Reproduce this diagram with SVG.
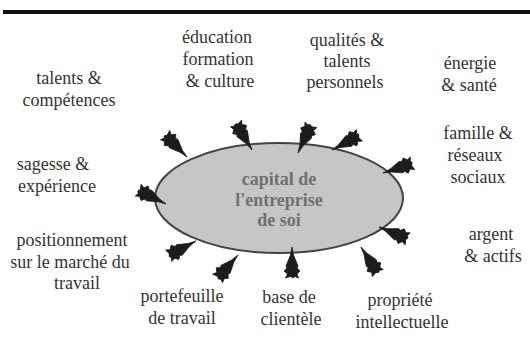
<svg xmlns="http://www.w3.org/2000/svg" width="530" height="341" viewBox="0 0 530 341">
<style>
text{font-family:'Liberation Serif',serif !important;font-size:18px;text-anchor:middle}
.lbl{fill:#333}
.ctr{font-weight:bold;fill:#707070}
.arr{fill:#1c1c1c;stroke:#1c1c1c;stroke-width:0.8;stroke-linejoin:round}
</style>
<defs>
<path id="dart" d="M0,0 L-8,-1.5 L-19,-6 L-21,-5 L-24,-8 L-27,-4.5 L-31,-6.5 L-29.5,-1.5 L-31,1 L-29.5,3 L-31,6.5 L-27,5 L-24,8 L-21,5 L-19,6 L-8,1.5 Z"/>
</defs>
<rect width="530" height="341" fill="#fff"/>
<line x1="3" y1="12" x2="530" y2="12" stroke="#111" stroke-width="4"/>
<g id="center">
<ellipse cx="279" cy="198" rx="124" ry="55" fill="#c6c6c6" stroke="#444" stroke-width="2"/>
<text class="ctr" x="279" y="185" font-family="Liberation Serif">capital de</text>
<text class="ctr" x="279" y="206" font-family="Liberation Serif">l'entreprise</text>
<text class="ctr" x="279" y="226" font-family="Liberation Serif">de soi</text>
</g>
<g id="connectors">
<use href="#dart" class="arr" transform="translate(187,157) rotate(45)"/>
<use href="#dart" class="arr" transform="translate(252,150) rotate(59)"/>
<use href="#dart" class="arr" transform="translate(298,153) rotate(114.8)"/>
<use href="#dart" class="arr" transform="translate(332,150) rotate(151.8)"/>
<use href="#dart" class="arr" transform="translate(383,173) rotate(162)"/>
<use href="#dart" class="arr" transform="translate(166,204) rotate(26.6)"/>
<use href="#dart" class="arr" transform="translate(379,227) rotate(202.5)"/>
<use href="#dart" class="arr" transform="translate(196,241) rotate(-28.3)"/>
<use href="#dart" class="arr" transform="translate(238,255) rotate(-49)"/>
<use href="#dart" class="arr" transform="translate(292,247) rotate(-90)"/>
<use href="#dart" class="arr" transform="translate(361,247) rotate(-122.7)"/>
</g>
<g id="talents"><text class="lbl" font-family="Liberation Serif" x="69" y="84">talents &amp;</text><text class="lbl" font-family="Liberation Serif" x="69" y="106">compétences</text></g>
<g id="education"><text class="lbl" font-family="Liberation Serif" x="217" y="43">éducation</text><text class="lbl" font-family="Liberation Serif" x="218" y="65">formation</text><text class="lbl" font-family="Liberation Serif" x="220" y="87">&amp; culture</text></g>
<g id="qualites"><text class="lbl" font-family="Liberation Serif" x="347" y="46">qualités &amp;</text><text class="lbl" font-family="Liberation Serif" x="347" y="67">talents</text><text class="lbl" font-family="Liberation Serif" x="345" y="88">personnels</text></g>
<g id="energie"><text class="lbl" font-family="Liberation Serif" x="470" y="69">énergie</text><text class="lbl" font-family="Liberation Serif" x="469" y="91">&amp; santé</text></g>
<g id="famille"><text class="lbl" font-family="Liberation Serif" x="478" y="139">famille &amp;</text><text class="lbl" font-family="Liberation Serif" x="475" y="161">réseaux</text><text class="lbl" font-family="Liberation Serif" x="478" y="183">sociaux</text></g>
<g id="sagesse"><text class="lbl" font-family="Liberation Serif" x="53" y="170">sagesse &amp;</text><text class="lbl" font-family="Liberation Serif" x="57" y="192">expérience</text></g>
<g id="positionnement"><text class="lbl" font-family="Liberation Serif" x="72" y="246">positionnement</text><text class="lbl" font-family="Liberation Serif" x="70" y="268">sur le marché du</text><text class="lbl" font-family="Liberation Serif" x="77" y="289">travail</text></g>
<g id="portefeuille"><text class="lbl" font-family="Liberation Serif" x="182" y="302">portefeuille</text><text class="lbl" font-family="Liberation Serif" x="182" y="324">de travail</text></g>
<g id="clientele"><text class="lbl" font-family="Liberation Serif" x="289" y="303">base de</text><text class="lbl" font-family="Liberation Serif" x="291" y="325">clientèle</text></g>
<g id="propriete"><text class="lbl" font-family="Liberation Serif" x="400" y="306">propriété</text><text class="lbl" font-family="Liberation Serif" x="402" y="328">intellectuelle</text></g>
<g id="argent"><text class="lbl" font-family="Liberation Serif" x="491" y="240">argent</text><text class="lbl" font-family="Liberation Serif" x="493" y="262">&amp; actifs</text></g>
</svg>
